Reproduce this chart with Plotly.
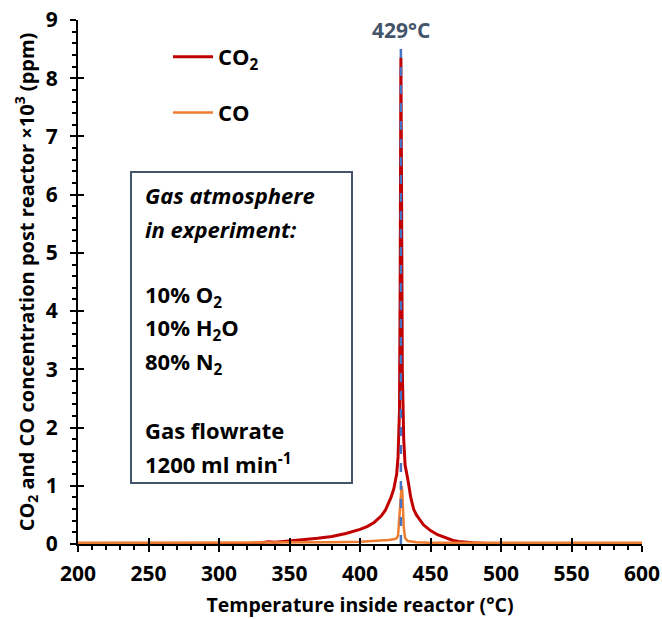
import plotly.graph_objects as go

# ---- data ----
temp_co2 = [200, 250, 300, 320, 330, 335, 340, 350, 360, 370, 380, 390, 400, 405, 410,
            415, 418, 420, 422, 424, 426, 427, 428, 428.5, 429, 429.5, 430, 431, 432,
            434, 436, 438, 440, 445, 450, 455, 460, 466, 470, 480, 490, 500, 550, 600]
co2 = [0.0, 0.0, 0.0, 0.01, 0.02, 0.04, 0.03, 0.05, 0.07, 0.1, 0.13, 0.18, 0.25, 0.3, 0.37,
       0.48, 0.58, 0.68, 0.8, 0.95, 1.2, 1.5, 2.3, 4.5, 8.35, 6.0, 3.0, 1.8, 1.35,
       1.1, 0.8, 0.6, 0.5, 0.33, 0.23, 0.16, 0.11, 0.06, 0.045, 0.02, 0.01, 0.0, 0.0, 0.0]

temp_co = [200, 300, 350, 380, 400, 410, 420, 424, 426, 427, 428, 429, 429.5, 430, 431,
           432, 434, 440, 450, 500, 600]
co = [0.02, 0.02, 0.02, 0.03, 0.04, 0.05, 0.07, 0.08, 0.1, 0.15, 0.5, 0.95, 1.0, 0.9, 0.3,
      0.1, 0.05, 0.03, 0.02, 0.02, 0.02]

peak_temp = 429
peak_line_y = [0, 8.66]
peak_label = "429°C"

x_ticks = [200, 250, 300, 350, 400, 450, 500, 550, 600]
y_ticks = [0, 1, 2, 3, 4, 5, 6, 7, 8, 9]

box_lines = ["<i>Gas atmosphere</i>", "<i>in experiment:</i>", "",
             "10% O<sub>2</sub>", "10% H<sub>2</sub>O", "80% N<sub>2</sub>", "",
             "Gas flowrate", "1200 ml min<sup>-1</sup>"]

FONT = "Open Sans"
W, H = 662, 619
L, R, T, B = 78, 20, 20, 75
pw, ph = W - L - R, H - T - B

def px_x(p):  # screen pixel -> paper x
    return (p - L) / pw

def px_y(p):  # screen pixel -> paper y
    return (T + ph - p) / ph

fig = go.Figure()
fig.add_trace(go.Scatter(x=temp_co2, y=co2, mode="lines", name="CO<sub>2</sub>",
                         legendgroup="a", line=dict(color="#C00000", width=3)))
fig.add_trace(go.Scatter(x=temp_co, y=co, mode="lines", name="CO",
                         legendgroup="b", line=dict(color="#ED7D31", width=2.5)))
fig.add_trace(go.Scatter(x=[peak_temp, peak_temp], y=peak_line_y, mode="lines",
                         showlegend=False, line=dict(color="#4472C4", width=2.5, dash="dash")))
# invisible trace for overlay axes (crossing ticks)
fig.add_trace(go.Scatter(x=[x_ticks[0]], y=[y_ticks[0]], xaxis="x2", yaxis="y2",
                         mode="markers", marker=dict(opacity=0), showlegend=False,
                         hoverinfo="skip"))

fig.add_annotation(x=peak_temp, y=8.83, xref="x", yref="y", text="<b>%s</b>" % peak_label,
                   showarrow=False, font=dict(family=FONT, size=21, color="#44546A"))

# text box
fig.add_shape(type="rect", xref="paper", yref="paper",
              x0=px_x(131), x1=px_x(352), y0=px_y(483), y1=px_y(172),
              line=dict(color="#44546A", width=2), fillcolor="white", layer="above")
line_y0 = 195
for i, t in enumerate(box_lines):
    if not t:
        continue
    fig.add_annotation(x=px_x(143), y=px_y(line_y0 + i * 33.5), xref="paper", yref="paper",
                       xanchor="left", yanchor="middle", text="<b>%s</b>" % t,
                       showarrow=False, font=dict(family=FONT, size=22, color="black"))

axis_common = dict(showgrid=False, zeroline=False, showline=True, linecolor="black",
                   linewidth=2, ticks="outside", tickcolor="black", tickwidth=2, ticklen=6,
                   automargin=False, ticklabeloverflow="allow",
                   tickfont=dict(family=FONT, size=21, color="black", weight="bold"))

fig.update_layout(
    width=W, height=H, margin=dict(l=L, r=R, t=T, b=B, autoexpand=False),
    plot_bgcolor="white", paper_bgcolor="white",
    font=dict(family=FONT, color="black"),
    xaxis=dict(range=[200, 600], tickvals=x_ticks, layer="below traces",
               ticklabelstandoff=4,
               minor=dict(ticks="outside", dtick=10, ticklen=4, tickwidth=2, tickcolor="black"),
               title=dict(text="<b>Temperature inside reactor (°C)</b>",
                          font=dict(family=FONT, size=19.5), standoff=12),
               **axis_common),
    yaxis=dict(range=[0, 9], tickvals=y_ticks, layer="below traces",
               ticklabelstandoff=8,
               minor=dict(ticks="outside", dtick=0.2, ticklen=4, tickwidth=2, tickcolor="black"),
               title=dict(text="<b>CO<sub>2</sub> and CO concentration post reactor ×10<sup>3</sup> (ppm)</b>",
                          font=dict(family=FONT, size=20), standoff=6),
               **axis_common),
    xaxis2=dict(overlaying="x", matches="x", range=[200, 600], tickvals=x_ticks,
                ticks="inside", ticklen=6, tickwidth=2, tickcolor="black", automargin=False,
                showticklabels=False, showline=False, showgrid=False, zeroline=False,
                anchor="y2", side="bottom"),
    yaxis2=dict(overlaying="y", matches="y", range=[0, 9], tickvals=y_ticks,
                ticks="inside", ticklen=6, tickwidth=2, tickcolor="black", automargin=False,
                showticklabels=False, showline=False, showgrid=False, zeroline=False,
                anchor="x2", side="left"),
    legend=dict(x=px_x(168), y=px_y(36), xanchor="left", yanchor="top",
                tracegroupgap=24, itemwidth=40, bgcolor="rgba(0,0,0,0)",
                font=dict(family=FONT, size=22, color="black", weight="bold")),
    showlegend=True,
)

fig.write_html("out.html", config={"displayModeBar": False},
               post_script="document.body.style.margin='0';")
